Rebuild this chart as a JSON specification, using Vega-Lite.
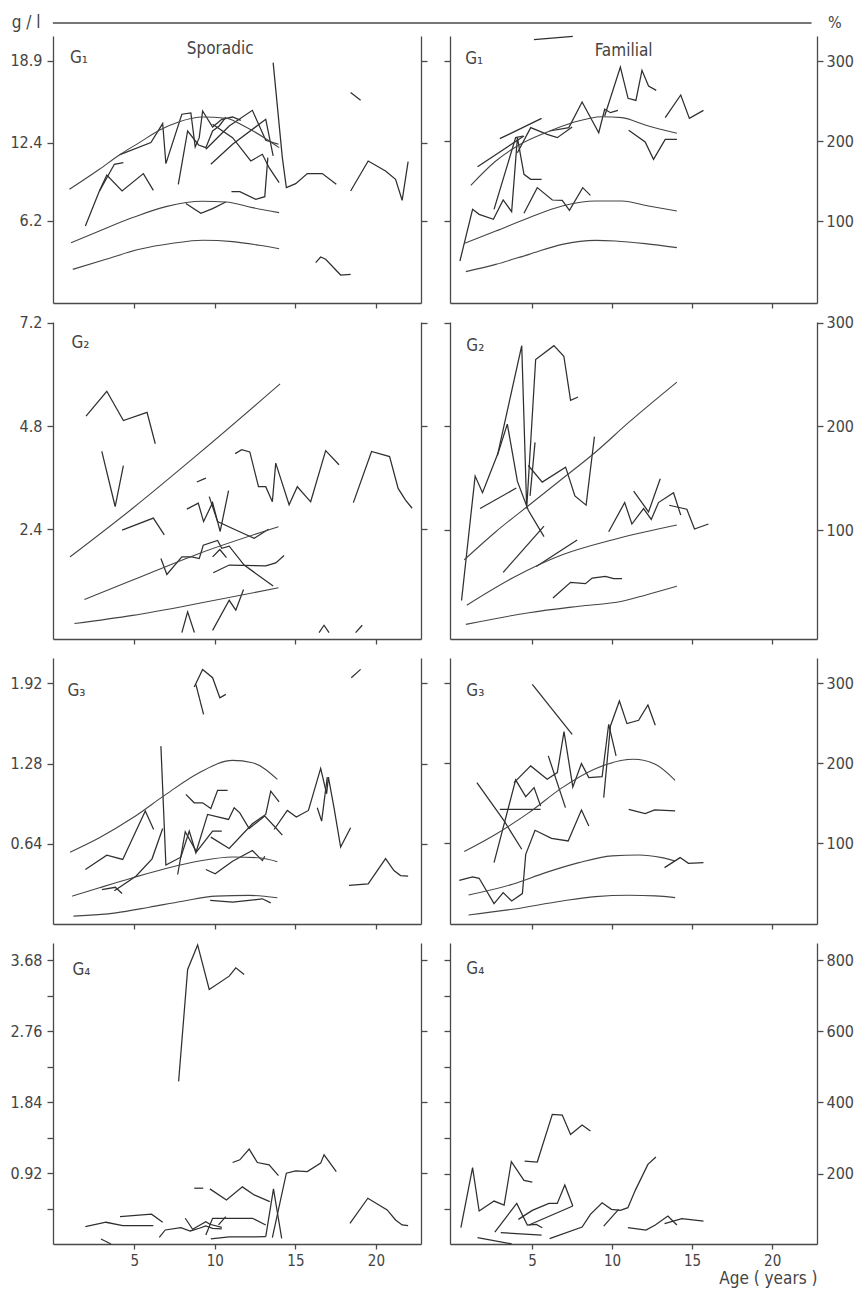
{
"$schema": "https://vega.github.io/schema/vega-lite/v6.json",
"background": "white",
"padding": {"left": 9, "top": 14, "right": 2, "bottom": 2},
"autosize": {"type": "pad"},
"config": {
  "view": {"stroke": null},
  "axis": {"grid": false, "domainColor": "#4a4a4a", "tickColor": "#4a4a4a", "domainWidth": 1.3, "tickWidth": 1.3, "labelFont": "DejaVu Sans Condensed", "labelFontSize": 16, "labelColor": "#444", "tickSize": 6, "labelPadding": 5, "titleFont": "DejaVu Sans Condensed", "titleFontWeight": "normal", "titleColor": "#444"},
  "text": {"font": "DejaVu Sans Condensed", "color": "#444"}
},
"datasets": {
"g1s": [
{"s":"r1","x":0.97,"y":8.70},{"s":"r1","x":2.83,"y":10.29},{"s":"r1","x":4.07,"y":11.43},{"s":"r1","x":5.31,"y":12.41},{"s":"r1","x":6.55,"y":13.39},{"s":"r1","x":7.79,"y":14.07},{"s":"r1","x":9.24,"y":14.44},{"s":"r1","x":10.68,"y":14.34},{"s":"r1","x":11.92,"y":13.65},{"s":"r1","x":13.16,"y":12.72},{"s":"r1","x":13.99,"y":12.01},
{"s":"r2","x":1.07,"y":4.47},{"s":"r2","x":2.83,"y":5.40},{"s":"r2","x":4.90,"y":6.46},{"s":"r2","x":6.96,"y":7.33},{"s":"r2","x":9.24,"y":7.75},{"s":"r2","x":10.68,"y":7.70},{"s":"r2","x":12.33,"y":7.25},{"s":"r2","x":13.99,"y":6.85},
{"s":"r3","x":1.18,"y":2.35},{"s":"r3","x":3.24,"y":3.15},{"s":"r3","x":5.31,"y":3.94},{"s":"r3","x":7.38,"y":4.42},{"s":"r3","x":9.24,"y":4.66},{"s":"r3","x":11.10,"y":4.55},{"s":"r3","x":12.75,"y":4.26},{"s":"r3","x":13.99,"y":3.99},
{"s":"A","x":1.96,"y":5.79},{"s":"A","x":2.83,"y":8.57},{"s":"A","x":3.29,"y":9.84},{"s":"A","x":4.24,"y":8.57},{"s":"A","x":5.56,"y":9.95},{"s":"A","x":6.18,"y":8.62},
{"s":"B","x":2.84,"y":8.57},{"s":"B","x":3.76,"y":10.69},{"s":"B","x":4.32,"y":10.82},
{"s":"C","x":4.07,"y":11.43},{"s":"C","x":6.03,"y":12.41},{"s":"C","x":6.76,"y":13.92},{"s":"C","x":6.96,"y":10.74},{"s":"C","x":7.95,"y":14.66},{"s":"C","x":8.51,"y":14.76},{"s":"C","x":8.78,"y":12.06},{"s":"C","x":9.03,"y":12.80},{"s":"C","x":9.24,"y":14.92},{"s":"C","x":9.86,"y":13.65},{"s":"C","x":10.43,"y":14.26},{"s":"C","x":11.10,"y":14.44},{"s":"C","x":11.61,"y":14.18},
{"s":"D","x":7.73,"y":9.10},{"s":"D","x":8.31,"y":13.33},{"s":"D","x":8.99,"y":12.22},{"s":"D","x":9.44,"y":12.01},{"s":"D","x":9.86,"y":13.33},{"s":"D","x":10.27,"y":13.73},{"s":"D","x":10.68,"y":14.44},
{"s":"E","x":9.44,"y":11.88},{"s":"E","x":10.89,"y":13.73},{"s":"E","x":12.33,"y":14.97},{"s":"E","x":13.16,"y":12.59},{"s":"E","x":13.95,"y":12.28},
{"s":"F","x":9.75,"y":10.69},{"s":"F","x":11.10,"y":12.28},{"s":"F","x":13.16,"y":14.26},{"s":"F","x":13.62,"y":11.35},
{"s":"G","x":9.86,"y":13.86},{"s":"G","x":11.10,"y":12.80},{"s":"G","x":12.23,"y":10.95},{"s":"G","x":12.95,"y":11.48},{"s":"G","x":13.37,"y":10.42},{"s":"G","x":13.99,"y":9.23},
{"s":"H","x":11.03,"y":8.52},{"s":"H","x":11.55,"y":8.52},{"s":"H","x":12.54,"y":7.91},{"s":"H","x":13.10,"y":8.12},{"s":"H","x":13.29,"y":11.22},
{"s":"I","x":8.20,"y":7.57},{"s":"I","x":9.13,"y":6.80},{"s":"I","x":9.86,"y":7.17},{"s":"I","x":10.68,"y":7.70},
{"s":"J","x":13.62,"y":18.76},{"s":"J","x":14.19,"y":11.22},{"s":"J","x":14.44,"y":8.84},{"s":"J","x":15.02,"y":9.15},{"s":"J","x":15.74,"y":9.95},{"s":"J","x":16.67,"y":9.95},{"s":"J","x":17.54,"y":9.10},
{"s":"K","x":18.43,"y":8.57},{"s":"K","x":19.52,"y":10.95},{"s":"K","x":20.60,"y":10.16},{"s":"K","x":21.22,"y":9.50},{"s":"K","x":21.63,"y":7.83},{"s":"K","x":22.00,"y":10.90},
{"s":"L","x":18.43,"y":16.38},{"s":"L","x":19.05,"y":15.77},
{"s":"M","x":16.26,"y":2.88},{"s":"M","x":16.57,"y":3.33},{"s":"M","x":16.88,"y":3.15},{"s":"M","x":17.81,"y":1.90},{"s":"M","x":18.43,"y":1.96}
],
"g1f": [
{"s":"r1","x":1.18,"y":144.6},{"s":"r1","x":2.74,"y":175},{"s":"r1","x":4.19,"y":195},{"s":"r1","x":5.85,"y":210.4},{"s":"r1","x":7.51,"y":222.9},{"s":"r1","x":9.38,"y":230.4},{"s":"r1","x":10.62,"y":229.2},{"s":"r1","x":12.07,"y":220},{"s":"r1","x":14.05,"y":209.6},
{"s":"r2","x":0.77,"y":72.1},{"s":"r2","x":2.74,"y":87.5},{"s":"r2","x":4.81,"y":104.2},{"s":"r2","x":6.89,"y":118.75},{"s":"r2","x":8.96,"y":125},{"s":"r2","x":10.62,"y":125},{"s":"r2","x":12.28,"y":118.75},{"s":"r2","x":14.05,"y":112.5},
{"s":"r3","x":0.87,"y":36.7},{"s":"r3","x":2.74,"y":45.8},{"s":"r3","x":4.81,"y":58.3},{"s":"r3","x":6.89,"y":70.8},{"s":"r3","x":8.96,"y":75.8},{"s":"r3","x":10.21,"y":75},{"s":"r3","x":12.07,"y":71.7},{"s":"r3","x":14.05,"y":66.7},
{"s":"A","x":0.50,"y":50},{"s":"A","x":1.29,"y":114.6},{"s":"A","x":1.70,"y":108.3},{"s":"A","x":2.59,"y":102.1},{"s":"A","x":3.20,"y":126.25},{"s":"A","x":3.73,"y":111.7},{"s":"A","x":4.09,"y":204.2},{"s":"A","x":4.50,"y":158.3},{"s":"A","x":4.92,"y":152.1},{"s":"A","x":5.60,"y":152.1},
{"s":"B","x":2.63,"y":114.6},{"s":"B","x":3.98,"y":204.2},{"s":"B","x":4.44,"y":206.25},
{"s":"C","x":1.60,"y":167.9},{"s":"C","x":4.50,"y":206.25},
{"s":"D","x":2.99,"y":202.9},{"s":"D","x":5.60,"y":228.3},
{"s":"E","x":4.09,"y":185.4},{"s":"E","x":4.92,"y":216.7},{"s":"E","x":5.95,"y":208.3},{"s":"E","x":6.58,"y":204.2},{"s":"E","x":7.51,"y":217.5},
{"s":"F","x":6.10,"y":212.5},{"s":"F","x":7.30,"y":216.7},{"s":"F","x":8.13,"y":248.75},{"s":"F","x":9.17,"y":210.4},{"s":"F","x":9.54,"y":239.6},{"s":"F","x":9.90,"y":235.4},{"s":"F","x":10.37,"y":238.3},
{"s":"G","x":9.54,"y":231.25},{"s":"G","x":10.52,"y":292.5},{"s":"G","x":11.00,"y":253.3},{"s":"G","x":11.49,"y":250.8},{"s":"G","x":11.87,"y":288.3},{"s":"G","x":12.28,"y":268.75},{"s":"G","x":12.76,"y":263.3},
{"s":"H","x":4.50,"y":109.6},{"s":"H","x":5.33,"y":141.7},{"s":"H","x":6.27,"y":126.25},{"s":"H","x":6.89,"y":125.8},{"s":"H","x":7.34,"y":113.3},{"s":"H","x":8.17,"y":141.7},{"s":"H","x":8.65,"y":132.1},
{"s":"I","x":11.04,"y":213.3},{"s":"I","x":12.07,"y":198.75},{"s":"I","x":12.59,"y":177.1},{"s":"I","x":13.32,"y":202.1},{"s":"I","x":14.05,"y":202.1},
{"s":"J","x":13.32,"y":229.2},{"s":"J","x":14.29,"y":257.5},{"s":"J","x":14.83,"y":228.3},{"s":"J","x":15.71,"y":238.3},
{"s":"Z","x":5.12,"y":326.7},{"s":"Z","x":7.55,"y":330.8}
],
"g2s": [
{"s":"r1","x":1.01,"y":1.76},{"s":"r1","x":4.90,"y":2.89},{"s":"r1","x":9.03,"y":4.17},{"s":"r1","x":14.05,"y":5.78},
{"s":"r2","x":1.90,"y":0.77},{"s":"r2","x":4.90,"y":1.22},{"s":"r2","x":9.03,"y":1.84},{"s":"r2","x":13.95,"y":2.46},
{"s":"r3","x":1.28,"y":0.21},{"s":"r3","x":4.90,"y":0.40},{"s":"r3","x":9.03,"y":0.68},{"s":"r3","x":13.95,"y":1.04},
{"s":"A","x":2.00,"y":5.03},{"s":"A","x":3.29,"y":5.61},{"s":"A","x":4.32,"y":4.93},{"s":"A","x":5.79,"y":5.12},{"s":"A","x":6.30,"y":4.39},
{"s":"B","x":2.98,"y":4.21},{"s":"B","x":3.81,"y":2.93},{"s":"B","x":4.32,"y":3.88},
{"s":"C","x":4.24,"y":2.38},{"s":"C","x":6.18,"y":2.66},{"s":"C","x":6.86,"y":2.27},
{"s":"D","x":8.88,"y":3.50},{"s":"D","x":9.44,"y":3.59},
{"s":"E","x":8.26,"y":2.87},{"s":"E","x":8.97,"y":3.01},{"s":"E","x":9.30,"y":2.58},{"s":"E","x":9.86,"y":3.02},{"s":"E","x":10.33,"y":2.35},{"s":"E","x":10.85,"y":3.30},
{"s":"F","x":9.65,"y":3.16},{"s":"F","x":10.17,"y":2.58},{"s":"F","x":11.10,"y":2.42},{"s":"F","x":12.44,"y":2.19},{"s":"F","x":13.33,"y":2.40},
{"s":"G","x":11.26,"y":4.16},{"s":"G","x":11.67,"y":4.25},{"s":"G","x":12.17,"y":4.20},{"s":"G","x":12.71,"y":3.39},{"s":"G","x":13.16,"y":3.39},{"s":"G","x":13.57,"y":3.04},{"s":"G","x":13.78,"y":3.94},{"s":"G","x":14.15,"y":3.51},{"s":"G","x":14.61,"y":2.97},{"s":"G","x":15.12,"y":3.39},{"s":"G","x":15.95,"y":3.04},{"s":"G","x":16.88,"y":4.23},{"s":"G","x":17.71,"y":3.90},
{"s":"H","x":18.60,"y":3.02},{"s":"H","x":19.73,"y":4.21},{"s":"H","x":20.85,"y":4.09},{"s":"H","x":21.38,"y":3.35},{"s":"H","x":21.84,"y":3.08},{"s":"H","x":22.25,"y":2.89},
{"s":"I","x":6.65,"y":1.72},{"s":"I","x":7.02,"y":1.35},{"s":"I","x":7.95,"y":1.76},{"s":"I","x":8.57,"y":1.76},{"s":"I","x":9.03,"y":1.72},{"s":"I","x":9.28,"y":2.03},{"s":"I","x":10.17,"y":2.14},{"s":"I","x":10.43,"y":1.96},{"s":"I","x":10.89,"y":2.01},{"s":"I","x":11.82,"y":1.57},{"s":"I","x":13.62,"y":1.08},
{"s":"J","x":9.86,"y":1.76},{"s":"J","x":10.31,"y":1.93},{"s":"J","x":10.72,"y":1.74},
{"s":"K","x":9.90,"y":1.39},{"s":"K","x":10.89,"y":1.57},{"s":"K","x":13.16,"y":1.55},{"s":"K","x":13.78,"y":1.62},{"s":"K","x":14.30,"y":1.79},
{"s":"L","x":9.86,"y":0.05},{"s":"L","x":10.89,"y":0.75},{"s":"L","x":11.30,"y":0.52},{"s":"L","x":11.78,"y":1.00},
{"s":"M","x":7.95,"y":0.0},{"s":"M","x":8.31,"y":0.48},{"s":"M","x":8.73,"y":0.0},
{"s":"N","x":16.47,"y":0.0},{"s":"N","x":16.78,"y":0.17},{"s":"N","x":17.09,"y":0.0},
{"s":"O","x":18.74,"y":0.0},{"s":"O","x":19.15,"y":0.17}
],
"g2f": [
{"s":"r1","x":0.77,"y":71.3},{"s":"r1","x":2.74,"y":98.4},{"s":"r1","x":4.81,"y":123.9},{"s":"r1","x":6.89,"y":149.4},{"s":"r1","x":8.96,"y":175.0},{"s":"r1","x":11.04,"y":203.7},{"s":"r1","x":14.05,"y":242.6},
{"s":"r2","x":0.93,"y":27.6},{"s":"r2","x":3.78,"y":53.7},{"s":"r2","x":6.89,"y":76.1},{"s":"r2","x":10.0,"y":90.4},{"s":"r2","x":14.05,"y":104.8},
{"s":"r3","x":0.87,"y":9.1},{"s":"r3","x":4.81,"y":20.3},{"s":"r3","x":7.93,"y":26.6},{"s":"r3","x":10.62,"y":31.4},{"s":"r3","x":12.07,"y":37.2},{"s":"r3","x":14.05,"y":45.8},
{"s":"A","x":0.60,"y":32.1},{"s":"A","x":1.45,"y":152.0},{"s":"A","x":1.91,"y":136.0},{"s":"A","x":2.90,"y":175.0},{"s":"A","x":3.46,"y":202.1},{"s":"A","x":4.09,"y":146.9},{"s":"A","x":4.77,"y":119.1},{"s":"A","x":5.75,"y":93.6},
{"s":"B","x":2.84,"y":171.8},{"s":"B","x":4.36,"y":277.7},{"s":"B","x":4.67,"y":120.7},{"s":"B","x":5.23,"y":264.3},{"s":"B","x":6.37,"y":277.7},{"s":"B","x":6.99,"y":267.5},{"s":"B","x":7.41,"y":225.0},{"s":"B","x":7.88,"y":228.2},
{"s":"C","x":4.77,"y":162.2},{"s":"C","x":5.64,"y":146.2},{"s":"C","x":7.10,"y":160.6},{"s":"C","x":7.68,"y":132.9},{"s":"C","x":8.38,"y":124.0},{"s":"C","x":8.90,"y":190.0},
{"s":"D","x":1.76,"y":120.7},{"s":"D","x":4.02,"y":140.5},
{"s":"DD","x":4.88,"y":132.9},{"s":"DD","x":5.19,"y":184.5},
{"s":"E","x":3.20,"y":59.2},{"s":"E","x":5.75,"y":103.8},
{"s":"F","x":5.27,"y":64.9},{"s":"F","x":7.82,"y":90.4},
{"s":"G","x":6.31,"y":34.6},{"s":"G","x":7.41,"y":49.6},{"s":"G","x":8.34,"y":48.3},{"s":"G","x":8.76,"y":53.7},{"s":"G","x":9.59,"y":55.3},{"s":"G","x":10.10,"y":53.1},{"s":"G","x":10.62,"y":53.1},
{"s":"H","x":9.79,"y":98.4},{"s":"H","x":10.79,"y":126.5},{"s":"H","x":11.24,"y":105.8},{"s":"H","x":11.97,"y":120.7},{"s":"H","x":12.45,"y":110.2},{"s":"H","x":12.90,"y":126.5},{"s":"H","x":13.84,"y":136.0},{"s":"H","x":14.29,"y":114.4},
{"s":"HH","x":11.35,"y":137.6},{"s":"HH","x":12.28,"y":117.5},{"s":"HH","x":13.01,"y":149.4},
{"s":"HX","x":13.57,"y":123.9},{"s":"HX","x":14.67,"y":120.1},{"s":"HX","x":15.15,"y":101.0},{"s":"HX","x":16.02,"y":105.8}
],
"g3s": [
{"s":"r1","x":1.01,"y":0.573},{"s":"r1","x":2.83,"y":0.688},{"s":"r1","x":4.90,"y":0.847},{"s":"r1","x":6.96,"y":1.034},{"s":"r1","x":9.03,"y":1.207},{"s":"r1","x":11.10,"y":1.305},{"s":"r1","x":12.33,"y":1.287},{"s":"r1","x":13.88,"y":1.154},
{"s":"r2","x":1.14,"y":0.222},{"s":"r2","x":2.83,"y":0.289},{"s":"r2","x":4.90,"y":0.369},{"s":"r2","x":6.96,"y":0.443},{"s":"r2","x":9.03,"y":0.502},{"s":"r2","x":11.10,"y":0.534},{"s":"r2","x":12.75,"y":0.528},{"s":"r2","x":13.88,"y":0.496},
{"s":"r3","x":1.22,"y":0.063},{"s":"r3","x":3.86,"y":0.089},{"s":"r3","x":5.93,"y":0.134},{"s":"r3","x":8.0,"y":0.182},{"s":"r3","x":10.06,"y":0.222},{"s":"r3","x":12.13,"y":0.228},{"s":"r3","x":13.88,"y":0.209},
{"s":"A","x":8.72,"y":1.891},{"s":"A","x":9.24,"y":2.031},{"s":"A","x":9.86,"y":1.965},{"s":"A","x":10.31,"y":1.805},{"s":"A","x":10.68,"y":1.832},
{"s":"AA","x":8.82,"y":1.912},{"s":"AA","x":9.30,"y":1.672},
{"s":"AB","x":18.47,"y":1.965},{"s":"AB","x":19.05,"y":2.031},
{"s":"B","x":1.96,"y":0.435},{"s":"B","x":3.29,"y":0.549},{"s":"B","x":4.28,"y":0.515},{"s":"B","x":5.68,"y":0.901},{"s":"B","x":6.20,"y":0.754},
{"s":"C1","x":2.99,"y":0.274},{"s":"C1","x":3.82,"y":0.293},{"s":"C1","x":4.24,"y":0.243},
{"s":"C2","x":3.76,"y":0.266},{"s":"C2","x":5.10,"y":0.381},{"s":"C2","x":6.10,"y":0.520},{"s":"C2","x":6.76,"y":0.762},
{"s":"C3","x":6.65,"y":1.419},{"s":"C3","x":6.96,"y":0.470},{"s":"C3","x":7.89,"y":0.533},{"s":"C3","x":8.41,"y":0.741},{"s":"C3","x":8.82,"y":0.568},{"s":"C3","x":9.55,"y":0.874},{"s":"C3","x":10.85,"y":0.834},{"s":"C3","x":11.20,"y":0.927},{"s":"C3","x":11.55,"y":0.887},{"s":"C3","x":12.13,"y":0.762},{"s":"C3","x":13.10,"y":0.861},{"s":"C3","x":13.78,"y":0.768},{"s":"C3","x":14.19,"y":0.709},
{"s":"C4","x":7.69,"y":0.395},{"s":"C4","x":8.16,"y":0.736},{"s":"C4","x":8.86,"y":0.576},{"s":"C4","x":9.86,"y":0.741},{"s":"C4","x":10.43,"y":0.741},
{"s":"C5","x":9.75,"y":0.693},{"s":"C5","x":10.89,"y":0.603},{"s":"C5","x":12.33,"y":0.800},{"s":"C5","x":13.16,"y":0.874},{"s":"C5","x":13.47,"y":1.060},{"s":"C5","x":13.99,"y":0.975},
{"s":"C6","x":8.20,"y":1.034},{"s":"C6","x":8.72,"y":0.967},{"s":"C6","x":9.24,"y":0.967},{"s":"C6","x":9.75,"y":0.922},{"s":"C6","x":10.17,"y":1.066},{"s":"C6","x":10.79,"y":1.066},
{"s":"C7","x":9.44,"y":0.435},{"s":"C7","x":10.02,"y":0.400},{"s":"C7","x":11.10,"y":0.501},{"s":"C7","x":12.33,"y":0.586},{"s":"C7","x":12.95,"y":0.506},{"s":"C7","x":13.10,"y":0.541},
{"s":"C8","x":9.71,"y":0.188},{"s":"C8","x":11.10,"y":0.174},{"s":"C8","x":12.95,"y":0.201},{"s":"C8","x":13.47,"y":0.169},
{"s":"D","x":13.68,"y":0.754},{"s":"D","x":14.50,"y":0.906},{"s":"D","x":15.06,"y":0.853},{"s":"D","x":15.81,"y":0.906},{"s":"D","x":16.57,"y":1.241},{"s":"D","x":16.94,"y":1.039},{"s":"D","x":17.05,"y":1.172},{"s":"D","x":17.40,"y":0.927},{"s":"D","x":17.81,"y":0.613},{"s":"D","x":18.43,"y":0.768},
{"s":"DD","x":16.36,"y":0.927},{"s":"DD","x":16.63,"y":0.821},{"s":"DD","x":16.98,"y":1.172},
{"s":"E","x":18.33,"y":0.309},{"s":"E","x":19.52,"y":0.320},{"s":"E","x":20.60,"y":0.522},{"s":"E","x":21.12,"y":0.426},{"s":"E","x":21.53,"y":0.386},{"s":"E","x":22.0,"y":0.381}
],
"g3f": [
{"s":"r1","x":0.77,"y":89.6},{"s":"r1","x":2.74,"y":111.25},{"s":"r1","x":4.81,"y":138.3},{"s":"r1","x":6.89,"y":169.6},{"s":"r1","x":8.96,"y":193.3},{"s":"r1","x":11.35,"y":205},{"s":"r1","x":12.70,"y":198.75},{"s":"r1","x":13.94,"y":178.75},
{"s":"r2","x":1.04,"y":35.4},{"s":"r2","x":3.78,"y":48.75},{"s":"r2","x":5.85,"y":63.3},{"s":"r2","x":7.93,"y":75.8},{"s":"r2","x":10.0,"y":84.2},{"s":"r2","x":11.66,"y":85.4},{"s":"r2","x":13.11,"y":82.1},{"s":"r2","x":13.94,"y":77.9},
{"s":"r3","x":1.04,"y":10.4},{"s":"r3","x":3.78,"y":17.5},{"s":"r3","x":6.89,"y":27.9},{"s":"r3","x":8.96,"y":33.3},{"s":"r3","x":11.04,"y":35},{"s":"r3","x":12.70,"y":34.2},{"s":"r3","x":13.94,"y":32.1},
{"s":"A","x":5.02,"y":298.75},{"s":"A","x":7.51,"y":236.25},
{"s":"B","x":0.46,"y":53.75},{"s":"B","x":1.29,"y":57.9},{"s":"B","x":1.70,"y":56.25},{"s":"B","x":2.63,"y":24.6},{"s":"B","x":3.20,"y":38.3},{"s":"B","x":3.73,"y":27.9},{"s":"B","x":4.40,"y":37.1},{"s":"B","x":4.61,"y":86.25},{"s":"B","x":5.19,"y":116.25},{"s":"B","x":6.22,"y":106.25},{"s":"B","x":7.26,"y":102.9},{"s":"B","x":8.09,"y":141.7},{"s":"B","x":8.55,"y":121.7},
{"s":"C","x":1.56,"y":175.8},{"s":"C","x":3.26,"y":127.9},{"s":"C","x":4.36,"y":92.5},
{"s":"D","x":2.63,"y":75.8},{"s":"D","x":3.98,"y":179.2},{"s":"D","x":4.61,"y":158.3},{"s":"D","x":5.13,"y":169.6},{"s":"D","x":5.54,"y":146.7},
{"s":"E","x":2.99,"y":142.5},{"s":"E","x":5.54,"y":142.5},
{"s":"F","x":3.88,"y":175.8},{"s":"F","x":4.92,"y":196.7},{"s":"F","x":5.95,"y":180},{"s":"F","x":6.58,"y":188.3},{"s":"F","x":7.0,"y":239.6},{"s":"F","x":7.55,"y":170.4},{"s":"F","x":8.09,"y":199.6},{"s":"F","x":8.55,"y":182.1},{"s":"F","x":9.38,"y":183.3},{"s":"F","x":9.79,"y":248.75},{"s":"F","x":10.25,"y":209.2},
{"s":"G","x":6.02,"y":209.2},{"s":"G","x":7.09,"y":144.6},
{"s":"H","x":9.48,"y":157.1},{"s":"H","x":9.90,"y":246.7},{"s":"H","x":10.46,"y":277.9},{"s":"H","x":10.93,"y":249.6},{"s":"H","x":11.66,"y":253.75},{"s":"H","x":12.24,"y":272.9},{"s":"H","x":12.70,"y":247.5},
{"s":"I","x":11.04,"y":142.5},{"s":"I","x":12.07,"y":137.1},{"s":"I","x":12.66,"y":141.7},{"s":"I","x":13.94,"y":140.4},
{"s":"J","x":13.28,"y":69.6},{"s":"J","x":14.25,"y":82.1},{"s":"J","x":14.77,"y":75},{"s":"J","x":15.71,"y":75.8}
],
"g4s": [
{"s":"A","x":7.75,"y":2.110},{"s":"A","x":8.31,"y":3.562},{"s":"A","x":8.93,"y":3.88},{"s":"A","x":9.65,"y":3.302},{"s":"A","x":10.89,"y":3.475},{"s":"A","x":11.30,"y":3.583},{"s":"A","x":11.82,"y":3.497},
{"s":"B","x":11.10,"y":1.057},{"s":"B","x":11.55,"y":1.092},{"s":"B","x":12.13,"y":1.231},{"s":"B","x":12.64,"y":1.057},{"s":"B","x":13.37,"y":1.027},{"s":"B","x":13.95,"y":0.888},
{"s":"C","x":13.57,"y":0.082},{"s":"C","x":14.44,"y":0.919},{"s":"C","x":15.02,"y":0.949},{"s":"C","x":15.74,"y":0.940},{"s":"C","x":16.57,"y":1.049},{"s":"C","x":16.78,"y":1.157},{"s":"C","x":17.54,"y":0.940},
{"s":"D","x":8.72,"y":0.724},{"s":"D","x":9.28,"y":0.724},
{"s":"E","x":9.69,"y":0.715},{"s":"E","x":10.72,"y":0.572},{"s":"E","x":11.71,"y":0.741},{"s":"E","x":12.44,"y":0.637},{"s":"E","x":13.41,"y":0.550},
{"s":"EE","x":13.16,"y":0.095},{"s":"EE","x":13.64,"y":0.715},{"s":"EE","x":14.15,"y":0.074},
{"s":"F","x":1.96,"y":0.225},{"s":"F","x":3.24,"y":0.282},{"s":"F","x":4.28,"y":0.238},{"s":"F","x":6.18,"y":0.238},
{"s":"G","x":4.11,"y":0.355},{"s":"G","x":6.07,"y":0.386},{"s":"G","x":6.76,"y":0.282},
{"s":"H","x":6.55,"y":0.087},{"s":"H","x":6.92,"y":0.182},{"s":"H","x":7.89,"y":0.212},{"s":"H","x":8.47,"y":0.169},{"s":"H","x":9.03,"y":0.204},{"s":"H","x":9.44,"y":0.234},{"s":"H","x":9.86,"y":0.204},{"s":"H","x":10.43,"y":0.195},
{"s":"I","x":8.16,"y":0.334},{"s":"I","x":8.62,"y":0.191},{"s":"I","x":9.44,"y":0.290},{"s":"I","x":9.69,"y":0.256},{"s":"I","x":10.43,"y":0.217},
{"s":"J","x":9.44,"y":0.117},{"s":"J","x":9.86,"y":0.334},{"s":"J","x":12.33,"y":0.334},{"s":"J","x":13.16,"y":0.247},
{"s":"K","x":9.75,"y":0.065},{"s":"K","x":10.89,"y":0.091},{"s":"K","x":13.16,"y":0.095},
{"s":"L","x":10.23,"y":0.247},{"s":"L","x":10.68,"y":0.355},
{"s":"M","x":2.93,"y":0.065},{"s":"M","x":3.55,"y":0.0},
{"s":"N","x":18.39,"y":0.269},{"s":"N","x":19.50,"y":0.594},{"s":"N","x":20.70,"y":0.442},{"s":"N","x":21.22,"y":0.312},{"s":"N","x":21.63,"y":0.247},{"s":"N","x":22.0,"y":0.238}
],
"g4f": [
{"s":"A","x":0.56,"y":47.8},{"s":"A","x":1.29,"y":216.6},{"s":"A","x":1.70,"y":94.7},{"s":"A","x":2.63,"y":122.8},{"s":"A","x":3.26,"y":111.6},{"s":"A","x":3.71,"y":233.4},{"s":"A","x":4.50,"y":180.9},{"s":"A","x":5.02,"y":176.2},
{"s":"B","x":4.54,"y":235.3},{"s":"B","x":5.33,"y":232.5},{"s":"B","x":6.27,"y":366.6},{"s":"B","x":6.89,"y":364.7},{"s":"B","x":7.41,"y":310.3},{"s":"B","x":8.13,"y":336.6},{"s":"B","x":8.65,"y":319.7},
{"s":"C","x":2.68,"y":35.6},{"s":"C","x":4.05,"y":116.25},{"s":"C","x":4.71,"y":55.3},{"s":"C","x":5.27,"y":57.2},{"s":"C","x":5.64,"y":47.8},
{"s":"D","x":4.15,"y":71.25},{"s":"D","x":5.02,"y":96.6},{"s":"D","x":6.06,"y":116.25},{"s":"D","x":6.58,"y":116.25},{"s":"D","x":7.05,"y":167.8},{"s":"D","x":7.55,"y":108.75},
{"s":"E","x":4.81,"y":55.3},{"s":"E","x":7.55,"y":108.75},
{"s":"F","x":3.05,"y":33.75},{"s":"F","x":5.60,"y":27.2},
{"s":"G","x":1.60,"y":19.7},{"s":"G","x":3.73,"y":2.5},
{"s":"H","x":6.10,"y":16.9},{"s":"H","x":8.13,"y":49.7},{"s":"H","x":8.65,"y":85.3},{"s":"H","x":9.38,"y":118.1},{"s":"H","x":9.96,"y":99.4},{"s":"H","x":10.52,"y":96.6},{"s":"H","x":10.99,"y":104.1},{"s":"H","x":11.45,"y":152.8},{"s":"H","x":12.24,"y":225.9},{"s":"H","x":12.74,"y":246.6},
{"s":"I","x":9.48,"y":52.5},{"s":"I","x":10.41,"y":99.4},
{"s":"J","x":10.99,"y":47.8},{"s":"J","x":12.12,"y":41.25},{"s":"J","x":12.70,"y":55.3},{"s":"J","x":13.49,"y":80.6},{"s":"J","x":14.05,"y":55.3},
{"s":"K","x":13.28,"y":59.1},{"s":"K","x":14.36,"y":73.1},{"s":"K","x":15.71,"y":66.6}
]
},
"columns": 2,
"spacing": {"row": 19, "column": 29},
"bounds": "flush",
"concat": [
{
 "width": 368, "height": 267, "data": {"name": "g1s"},
 "resolve": {"axis": {"y": "independent"}},
 "layer": [
  {"transform": [{"filter": "indexof(datum.s,'r') != 0"}],
   "mark": {"type": "line", "color": "#2f2f2f", "strokeWidth": 1.25},
   "encoding": {
    "x": {"field": "x", "type": "quantitative", "scale": {"domain": [-0.05, 22.8], "nice": false, "zero": false}, "axis": {"values": [5,10,15,20], "labels": false, "title": null, "tickSize": 5}},
    "y": {"field": "y", "type": "quantitative", "scale": {"domain": [-0.32, 20.87], "nice": false, "zero": false}, "axis": {"orient": "left", "values": [6.2,12.4,18.9], "format": ".1f", "title": null}},
    "detail": {"field": "s", "type": "nominal"}}},
  {"transform": [{"filter": "indexof(datum.s,'r') == 0"}],
   "mark": {"type": "line", "interpolate": "monotone", "color": "#454545", "strokeWidth": 1.1},
   "encoding": {
    "x": {"field": "x", "type": "quantitative"},
    "y": {"field": "y", "type": "quantitative", "axis": {"orient": "right", "values": [6.2,12.4,18.9], "labels": false, "title": null}},
    "detail": {"field": "s", "type": "nominal"}}},
  {"data": {"values": [{}]}, "mark": {"type": "text", "align": "left", "fontSize": 17},
   "encoding": {"x": {"datum": 1.0, "type": "quantitative"}, "y": {"datum": 19.1, "type": "quantitative", "axis": null}, "text": {"value": "G₁"}}},
  {"data": {"values": [{}]}, "mark": {"type": "text", "align": "center", "fontSize": 17},
   "encoding": {"x": {"datum": 10.33, "type": "quantitative"}, "y": {"datum": 19.8, "type": "quantitative", "axis": null}, "text": {"value": "Sporadic"}}},
  {"data": {"values": [{}]}, "mark": {"type": "text", "align": "left", "baseline": "middle", "fontSize": 17},
   "encoding": {"x": {"datum": -2.61, "type": "quantitative"}, "y": {"datum": 21.9, "type": "quantitative", "axis": null}, "text": {"value": "g / l"}}},
  {"data": {"values": [{}]}, "mark": {"type": "rule", "color": "#4a4a4a", "strokeWidth": 1.3},
   "encoding": {"x": {"datum": -0.06, "type": "quantitative"}, "x2": {"datum": 47.05}, "y": {"datum": 21.9, "type": "quantitative", "axis": null}}}
 ]
},
{
 "width": 367, "height": 267, "data": {"name": "g1f"},
 "resolve": {"axis": {"y": "independent"}},
 "layer": [
  {"transform": [{"filter": "indexof(datum.s,'r') != 0"}],
   "mark": {"type": "line", "color": "#2f2f2f", "strokeWidth": 1.25},
   "encoding": {
    "x": {"field": "x", "type": "quantitative", "scale": {"domain": [-0.12, 22.8], "nice": false, "zero": false}, "axis": {"values": [5,10,15,20], "labels": false, "title": null, "tickSize": 5}},
    "y": {"field": "y", "type": "quantitative", "scale": {"domain": [-2.5, 331.25], "nice": false, "zero": false}, "axis": {"orient": "left", "values": [100,200,300], "labels": false, "title": null}},
    "detail": {"field": "s", "type": "nominal"}}},
  {"transform": [{"filter": "indexof(datum.s,'r') == 0"}],
   "mark": {"type": "line", "interpolate": "monotone", "color": "#454545", "strokeWidth": 1.1},
   "encoding": {
    "x": {"field": "x", "type": "quantitative"},
    "y": {"field": "y", "type": "quantitative", "axis": {"orient": "right", "values": [100,200,300], "format": "d", "labelPadding": 3, "title": null}},
    "detail": {"field": "s", "type": "nominal"}}},
  {"data": {"values": [{}]}, "mark": {"type": "text", "align": "left", "fontSize": 17},
   "encoding": {"x": {"datum": 0.83, "type": "quantitative"}, "y": {"datum": 302, "type": "quantitative", "axis": null}, "text": {"value": "G₁"}}},
  {"data": {"values": [{}]}, "mark": {"type": "text", "align": "center", "fontSize": 17},
   "encoding": {"x": {"datum": 10.72, "type": "quantitative"}, "y": {"datum": 313, "type": "quantitative", "axis": null}, "text": {"value": "Familial"}}},
  {"data": {"values": [{}]}, "mark": {"type": "text", "align": "center", "baseline": "middle", "fontSize": 16},
   "encoding": {"x": {"datum": 23.91, "type": "quantitative"}, "y": {"datum": 347.5, "type": "quantitative", "axis": null}, "text": {"value": "%"}}}
 ]
},
{
 "width": 368, "height": 317, "data": {"name": "g2s"},
 "resolve": {"axis": {"y": "independent"}},
 "layer": [
  {"transform": [{"filter": "indexof(datum.s,'r') != 0"}],
   "mark": {"type": "line", "color": "#2f2f2f", "strokeWidth": 1.25},
   "encoding": {
    "x": {"field": "x", "type": "quantitative", "scale": {"domain": [-0.05, 22.8], "nice": false, "zero": false}, "axis": {"values": [5,10,15,20], "labels": false, "title": null, "tickSize": 5}},
    "y": {"field": "y", "type": "quantitative", "scale": {"domain": [-0.15, 7.22], "nice": false, "zero": false}, "axis": {"orient": "left", "values": [2.4,4.8,7.2], "format": ".1f", "title": null}},
    "detail": {"field": "s", "type": "nominal"}}},
  {"transform": [{"filter": "indexof(datum.s,'r') == 0"}],
   "mark": {"type": "line", "interpolate": "monotone", "color": "#454545", "strokeWidth": 1.1},
   "encoding": {
    "x": {"field": "x", "type": "quantitative"},
    "y": {"field": "y", "type": "quantitative", "axis": {"orient": "right", "values": [2.4,4.8,7.2], "labels": false, "title": null}},
    "detail": {"field": "s", "type": "nominal"}}},
  {"data": {"values": [{}]}, "mark": {"type": "text", "align": "left", "fontSize": 17},
   "encoding": {"x": {"datum": 1.1, "type": "quantitative"}, "y": {"datum": 6.73, "type": "quantitative", "axis": null}, "text": {"value": "G₂"}}}
 ]
},
{
 "width": 367, "height": 317, "data": {"name": "g2f"},
 "resolve": {"axis": {"y": "independent"}},
 "layer": [
  {"transform": [{"filter": "indexof(datum.s,'r') != 0"}],
   "mark": {"type": "line", "color": "#2f2f2f", "strokeWidth": 1.25},
   "encoding": {
    "x": {"field": "x", "type": "quantitative", "scale": {"domain": [-0.12, 22.8], "nice": false, "zero": false}, "axis": {"values": [5,10,15,20], "labels": false, "title": null, "tickSize": 5}},
    "y": {"field": "y", "type": "quantitative", "scale": {"domain": [-5, 300.5], "nice": false, "zero": false}, "axis": {"orient": "left", "values": [100,200,300], "labels": false, "title": null}},
    "detail": {"field": "s", "type": "nominal"}}},
  {"transform": [{"filter": "indexof(datum.s,'r') == 0"}],
   "mark": {"type": "line", "interpolate": "monotone", "color": "#454545", "strokeWidth": 1.1},
   "encoding": {
    "x": {"field": "x", "type": "quantitative"},
    "y": {"field": "y", "type": "quantitative", "axis": {"orient": "right", "values": [100,200,300], "format": "d", "labelPadding": 3, "title": null}},
    "detail": {"field": "s", "type": "nominal"}}},
  {"data": {"values": [{}]}, "mark": {"type": "text", "align": "left", "fontSize": 17},
   "encoding": {"x": {"datum": 0.9, "type": "quantitative"}, "y": {"datum": 277, "type": "quantitative", "axis": null}, "text": {"value": "G₂"}}}
 ]
},
{
 "width": 368, "height": 266, "data": {"name": "g3s"},
 "resolve": {"axis": {"y": "independent"}},
 "layer": [
  {"transform": [{"filter": "indexof(datum.s,'r') != 0"}],
   "mark": {"type": "line", "color": "#2f2f2f", "strokeWidth": 1.25},
   "encoding": {
    "x": {"field": "x", "type": "quantitative", "scale": {"domain": [-0.05, 22.8], "nice": false, "zero": false}, "axis": {"values": [5,10,15,20], "labels": false, "title": null, "tickSize": 5}},
    "y": {"field": "y", "type": "quantitative", "scale": {"domain": [0, 2.122], "nice": false, "zero": false}, "axis": {"orient": "left", "values": [0.64,1.28,1.92], "format": ".2f", "title": null}},
    "detail": {"field": "s", "type": "nominal"}}},
  {"transform": [{"filter": "indexof(datum.s,'r') == 0"}],
   "mark": {"type": "line", "interpolate": "monotone", "color": "#454545", "strokeWidth": 1.1},
   "encoding": {
    "x": {"field": "x", "type": "quantitative"},
    "y": {"field": "y", "type": "quantitative", "axis": {"orient": "right", "values": [0.64,1.28,1.92], "labels": false, "title": null}},
    "detail": {"field": "s", "type": "nominal"}}},
  {"data": {"values": [{}]}, "mark": {"type": "text", "align": "left", "fontSize": 17},
   "encoding": {"x": {"datum": 0.85, "type": "quantitative"}, "y": {"datum": 1.86, "type": "quantitative", "axis": null}, "text": {"value": "G₃"}}}
 ]
},
{
 "width": 367, "height": 266, "data": {"name": "g3f"},
 "resolve": {"axis": {"y": "independent"}},
 "layer": [
  {"transform": [{"filter": "indexof(datum.s,'r') != 0"}],
   "mark": {"type": "line", "color": "#2f2f2f", "strokeWidth": 1.25},
   "encoding": {
    "x": {"field": "x", "type": "quantitative", "scale": {"domain": [-0.12, 22.8], "nice": false, "zero": false}, "axis": {"values": [5,10,15,20], "labels": false, "title": null, "tickSize": 5}},
    "y": {"field": "y", "type": "quantitative", "scale": {"domain": [-0.9, 331.6], "nice": false, "zero": false}, "axis": {"orient": "left", "values": [100,200,300], "labels": false, "title": null}},
    "detail": {"field": "s", "type": "nominal"}}},
  {"transform": [{"filter": "indexof(datum.s,'r') == 0"}],
   "mark": {"type": "line", "interpolate": "monotone", "color": "#454545", "strokeWidth": 1.1},
   "encoding": {
    "x": {"field": "x", "type": "quantitative"},
    "y": {"field": "y", "type": "quantitative", "axis": {"orient": "right", "values": [100,200,300], "format": "d", "labelPadding": 3, "title": null}},
    "detail": {"field": "s", "type": "nominal"}}},
  {"data": {"values": [{}]}, "mark": {"type": "text", "align": "left", "fontSize": 17},
   "encoding": {"x": {"datum": 0.9, "type": "quantitative"}, "y": {"datum": 290, "type": "quantitative", "axis": null}, "text": {"value": "G₃"}}}
 ]
},
{
 "width": 368, "height": 301, "data": {"name": "g4s"},
 "resolve": {"axis": {"y": "independent"}},
 "layer": [
  {"transform": [{"filter": "indexof(datum.s,'r') != 0"}],
   "mark": {"type": "line", "color": "#2f2f2f", "strokeWidth": 1.25},
   "encoding": {
    "x": {"field": "x", "type": "quantitative", "scale": {"domain": [-0.05, 22.8], "nice": false, "zero": false}, "axis": {"values": [5,10,15,20], "format": "d", "title": null, "tickSize": 5, "labelPadding": 4, "labelFontSize": 15}},
    "y": {"field": "y", "type": "quantitative", "scale": {"domain": [0, 3.905], "nice": false, "zero": false}, "axis": {"orient": "left", "values": [0.46,0.92,1.38,1.84,2.30,2.76,3.22,3.68], "labelExpr": "round(datum.value*100) % 92 == 0 ? format(datum.value, '.2f') : ''", "title": null}},
    "detail": {"field": "s", "type": "nominal"}}},
  {"transform": [{"filter": "indexof(datum.s,'r') == 0"}],
   "mark": {"type": "line", "interpolate": "monotone", "color": "#454545", "strokeWidth": 1.1},
   "encoding": {
    "x": {"field": "x", "type": "quantitative"},
    "y": {"field": "y", "type": "quantitative", "axis": {"orient": "right", "values": [0.92,1.84,2.76,3.68], "labels": false, "title": null}},
    "detail": {"field": "s", "type": "nominal"}}},
  {"data": {"values": [{}]}, "mark": {"type": "text", "align": "left", "fontSize": 17},
   "encoding": {"x": {"datum": 1.16, "type": "quantitative"}, "y": {"datum": 3.56, "type": "quantitative", "axis": null}, "text": {"value": "G₄"}}}
 ]
},
{
 "width": 367, "height": 301, "data": {"name": "g4f"},
 "resolve": {"axis": {"y": "independent"}},
 "layer": [
  {"transform": [{"filter": "indexof(datum.s,'r') != 0"}],
   "mark": {"type": "line", "color": "#2f2f2f", "strokeWidth": 1.25},
   "encoding": {
    "x": {"field": "x", "type": "quantitative", "scale": {"domain": [-0.12, 22.8], "nice": false, "zero": false}, "axis": {"values": [5,10,15,20], "format": "d", "title": "Age ( years )", "titleAnchor": "end", "titleFontSize": 17, "titlePadding": 2, "tickSize": 5, "labelPadding": 4, "labelFontSize": 15}},
    "y": {"field": "y", "type": "quantitative", "scale": {"domain": [2, 848.5], "nice": false, "zero": false}, "axis": {"orient": "left", "values": [100,200,300,400,500,600,700,800], "labels": false, "title": null}},
    "detail": {"field": "s", "type": "nominal"}}},
  {"transform": [{"filter": "indexof(datum.s,'r') == 0"}],
   "mark": {"type": "line", "interpolate": "monotone", "color": "#454545", "strokeWidth": 1.1},
   "encoding": {
    "x": {"field": "x", "type": "quantitative"},
    "y": {"field": "y", "type": "quantitative", "axis": {"orient": "right", "values": [200,400,600,800], "format": "d", "labelPadding": 3, "title": null}},
    "detail": {"field": "s", "type": "nominal"}}},
  {"data": {"values": [{}]}, "mark": {"type": "text", "align": "left", "fontSize": 17},
   "encoding": {"x": {"datum": 0.9, "type": "quantitative"}, "y": {"datum": 774, "type": "quantitative", "axis": null}, "text": {"value": "G₄"}}}
 ]
}
]
}
